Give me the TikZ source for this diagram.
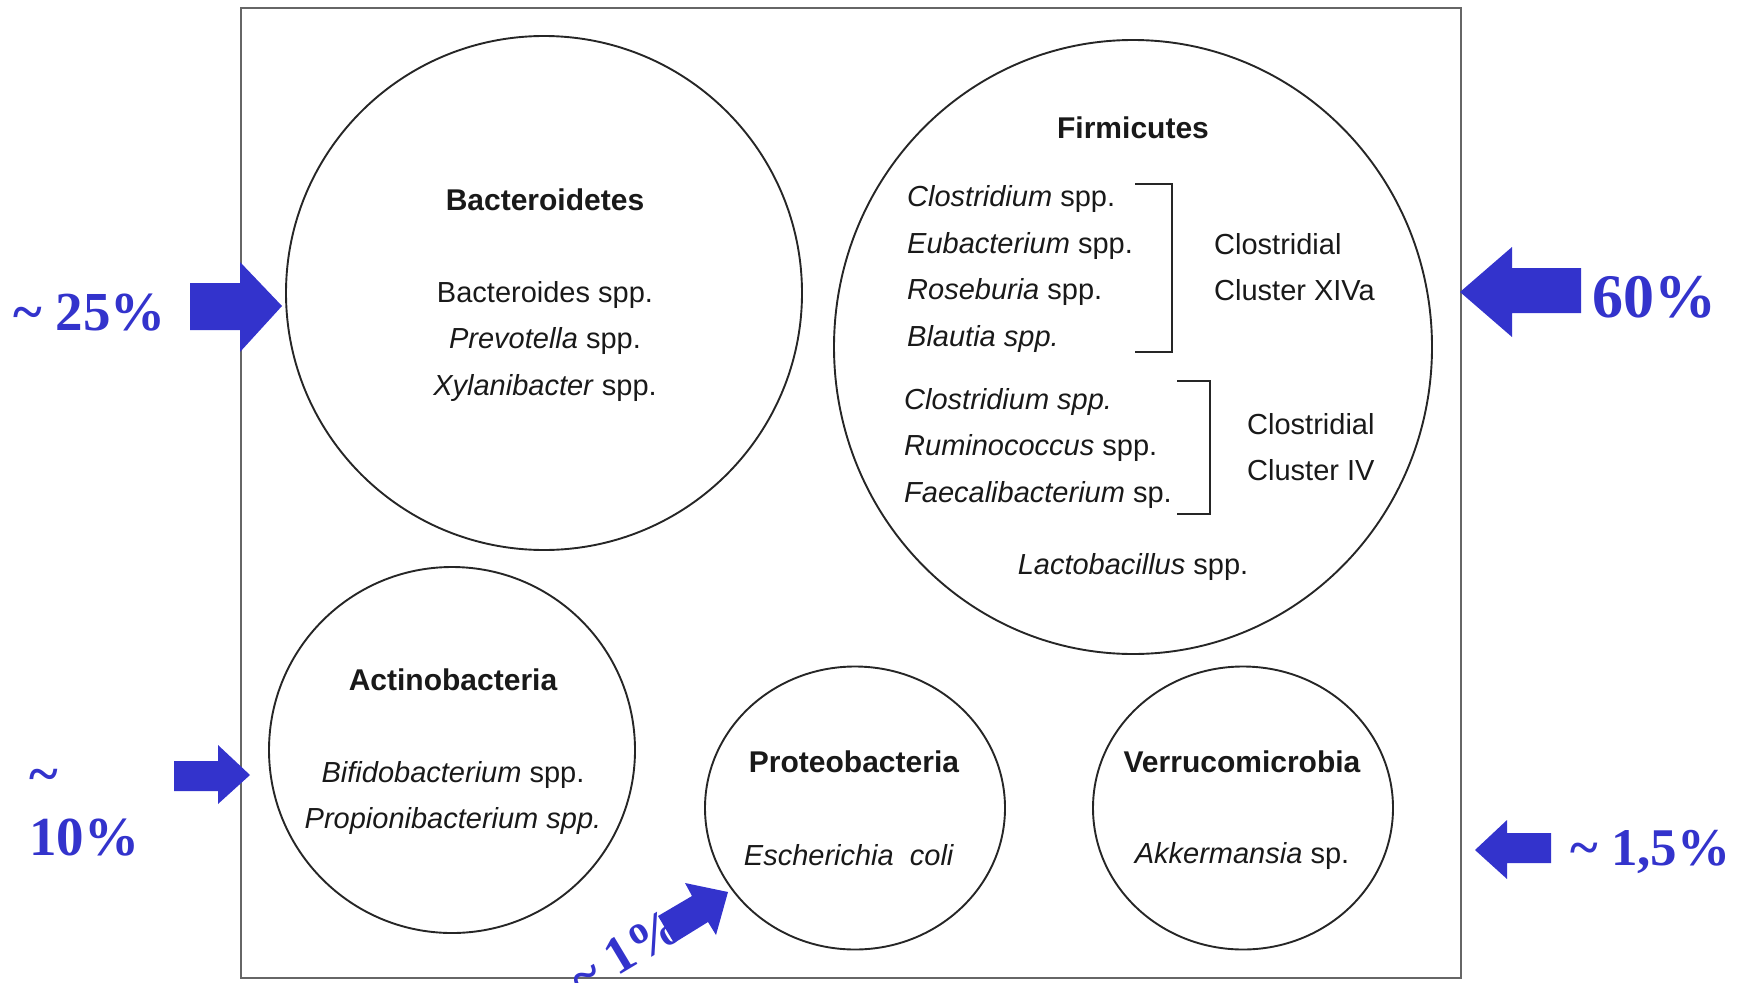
\documentclass[tikz,border=0pt]{standalone}
\usepackage{fontspec}
\setmainfont{Liberation Sans}
\newfontfamily\pctfont{Liberation Serif}
\usetikzlibrary{shapes.geometric}
\definecolor{pctblue}{RGB}{51,51,204}

\begin{document}
\begin{tikzpicture}[x=1pt, y=-1pt]
    \useasboundingbox (0, 0) rectangle (1744, 982);

    \tikzstyle{phylum} = [ellipse, draw = black!85, line width = 1.9pt, inner sep = 0pt]
    \tikzstyle{head} = [font = \fontsize{30}{45}\selectfont\bfseries, text = black!90, inner sep = 0pt]
    \tikzstyle{taxa} = [font = \fontsize{29}{46.5}\selectfont, text = black!90, inner sep = 0pt]
    \tikzstyle{pct} = [font = \pctfont\fontsize{55}{63}\selectfont\bfseries, text = pctblue, inner sep = 0pt]
    \tikzstyle{pctbig} = [pct, font = \pctfont\fontsize{62}{70}\selectfont\bfseries]
    \tikzstyle{pctsmall} = [pct, font = \pctfont\fontsize{53}{60}\selectfont\bfseries]
    \tikzstyle{blockarrow} = [fill = pctblue]

    % frame
    \draw[black!60, line width = 2.5pt] (241, 8) rectangle (1461, 978);

    % phyla
    \node[phylum, minimum width = 516pt, minimum height = 514pt] (bact) at (544, 293) {};
    \node[head] (bacttitle) at (545, 200) {Bacteroidetes};
    \node[taxa, align = center] (bacttaxa) at (545, 341)
        {Bacteroides spp.\\ \textit{Prevotella} spp.\\ \textit{Xylanibacter} spp.};

    \node[phylum, minimum width = 598pt, minimum height = 614pt] (firm) at (1133, 347) {};
    \node[head] (firmtitle) at (1133, 128) {Firmicutes};
    \node[taxa, anchor = west, align = left] (xiva) at (907, 269)
        {\textit{Clostridium} spp.\\ \textit{Eubacterium} spp.\\ \textit{Roseburia} spp.\\ \textit{Blautia spp.}};
    \draw[black!85, line width = 1.9pt] (1135, 184) -| (1172, 352) -- (1135, 352);
    \node[taxa, anchor = west, align = left] (xivalabel) at (1214, 267) {Clostridial\\ Cluster XIVa};
    \node[taxa, anchor = west, align = left] (four) at (904, 448)
        {\textit{Clostridium spp.}\\ \textit{Ruminococcus} spp.\\ \textit{Faecalibacterium} sp.};
    \draw[black!85, line width = 1.9pt] (1177, 381) -| (1210, 514) -- (1177, 514);
    \node[taxa, anchor = west, align = left] (fourlabel) at (1247, 447) {Clostridial\\ Cluster IV};
    \node[taxa] (lacto) at (1133, 567) {\textit{Lactobacillus} spp.};

    \node[phylum, minimum width = 366pt, minimum height = 366pt] (actino) at (452, 750) {};
    \node[head] (actinotitle) at (453, 680) {Actinobacteria};
    \node[taxa, align = center] (actinotaxa) at (453, 798)
        {\textit{Bifidobacterium} spp.\\ \textit{Propionibacterium spp.}};

    \node[phylum, minimum width = 300pt, minimum height = 283pt] (proteo) at (855, 808) {};
    \node[head] (proteotitle) at (854, 762) {Proteobacteria};
    \node[taxa] (ecoli) at (849, 855) {\textit{Escherichia\ \ coli}};

    \node[phylum, minimum width = 300pt, minimum height = 283pt] (verru) at (1243, 808) {};
    \node[head] (verrutitle) at (1242, 762) {Verrucomicrobia};
    \node[taxa] (akker) at (1242, 856) {\textit{Akkermansia} sp.};

    % abundance arrows
    \fill[blockarrow] (190, 283) -- (240, 283) -- (240, 262) -- (282, 306)
        -- (240, 352) -- (240, 330) -- (190, 330) -- cycle;
    \fill[blockarrow] (174, 761) -- (218, 761) -- (218, 745) -- (250, 775)
        -- (218, 804) -- (218, 791) -- (174, 791) -- cycle;
    \fill[blockarrow] (1581, 268) -- (1512, 268) -- (1512, 247) -- (1460, 292)
        -- (1512, 337) -- (1512, 313) -- (1581, 313) -- cycle;
    \fill[blockarrow] (1551, 833) -- (1507, 833) -- (1507, 820) -- (1475, 850)
        -- (1507, 879) -- (1507, 863) -- (1551, 863) -- cycle;
    \fill[blockarrow] (658, 916) -- (692, 896) -- (685, 883) -- (728, 892)
        -- (716, 935) -- (708, 922) -- (674, 943) -- cycle;

    \node[pct, anchor = base west] (p25) at (13, 330) {\textasciitilde{} 25\%};
    \node[pct, anchor = south west, align = left] (p10) at (29, 856) {\textasciitilde\\10\%};
    \node[pctbig, anchor = base west] (p60) at (1592, 317) {60\%};
    \node[pctsmall, anchor = base west] (p15) at (1570, 865) {\textasciitilde{} 1,5\%};
    \node[pctsmall, rotate = 31] (p1) at (625, 952) {\textasciitilde{} 1\%};
\end{tikzpicture}
\end{document}
